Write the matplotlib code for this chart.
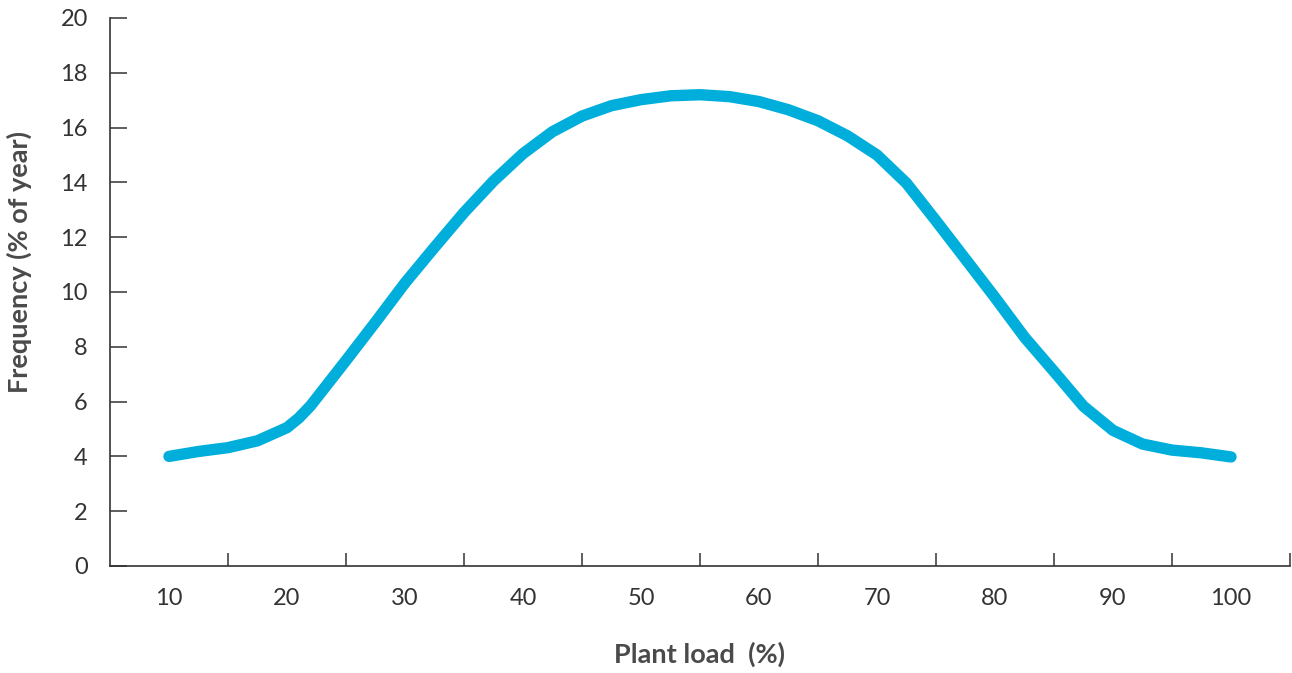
#!/usr/bin/env python3
"""
Plant load frequency curve (% of year vs plant load).
Outputs to out.png.
"""

import matplotlib.pyplot as plt
import numpy as np

plt.rcParams['font.family'] = ['Lato', 'DejaVu Sans']

# Values
plant_load = [10, 12.5, 15, 17.5, 20, 21, 22, 25, 27.5, 30, 32.5, 35, 37.5, 40, 42.5,
              45, 47.5, 50, 52.5, 55, 57.5, 60, 62.5, 65, 67.5, 70, 72.5, 75,
              77.5, 80, 82.5, 85, 87.5, 90, 92.5, 95, 97.5, 100]
frequency = [4.0, 4.18, 4.32, 4.57, 5.05, 5.4, 5.85, 7.5, 8.9, 10.33, 11.63, 12.9, 14.05, 15.05, 15.85,
             16.42, 16.8, 17.02, 17.16, 17.2, 17.13, 16.95, 16.65, 16.25, 15.7, 15.0, 13.97, 12.6,
             11.2, 9.8, 8.35, 7.1, 5.83, 4.95, 4.45, 4.23, 4.13, 3.98]

load_labels = [10, 20, 30, 40, 50, 60, 70, 80, 90, 100]
y_ticks = [0, 2, 4, 6, 8, 10, 12, 14, 16, 18, 20]

line_color = '#00AEDC'
axis_color = '#333333'
label_color = '#4a4a4a'

fig = plt.figure(figsize=(12.92, 6.73), dpi=100)
ax = fig.add_axes([110 / 1292, 1 - 566 / 673, 1180 / 1292, 548 / 673])

ax.plot(plant_load, frequency, color=line_color, linewidth=8.2,
        solid_capstyle='round', solid_joinstyle='round')

ax.set_xlim(5, 105)
ax.set_ylim(0, 20)

for side in ['top', 'right']:
    ax.spines[side].set_visible(False)
for side in ['left', 'bottom']:
    ax.spines[side].set_color(axis_color)
    ax.spines[side].set_linewidth(1.2)

# Category separators as major ticks, labels in between as minor ticks
ax.set_xticks(np.arange(15, 106, 10))
ax.set_xticklabels([])
ax.set_xticks(load_labels, minor=True)
ax.set_xticklabels([str(v) for v in load_labels], minor=True)
ax.tick_params(axis='x', which='major', direction='in', length=9.5, width=1.1, color=axis_color)
ax.tick_params(axis='x', which='minor', length=0, pad=16, labelsize=17, labelcolor=axis_color)

ax.set_yticks(y_ticks)
ax.tick_params(axis='y', direction='in', length=12, width=1.1, color=axis_color,
               pad=16, labelsize=17, labelcolor=axis_color)

ax.set_xlabel('Plant load  (%)', fontsize=19.5, fontweight='bold', color=label_color)
ax.set_ylabel('Frequency (% of year)', fontsize=19.5, fontweight='bold', color=label_color)
ax.xaxis.set_label_coords(0.5, -0.138)
ax.yaxis.set_label_coords(-0.066, 0.555)

plt.savefig('out.png', dpi=100, facecolor='white')
plt.close()
